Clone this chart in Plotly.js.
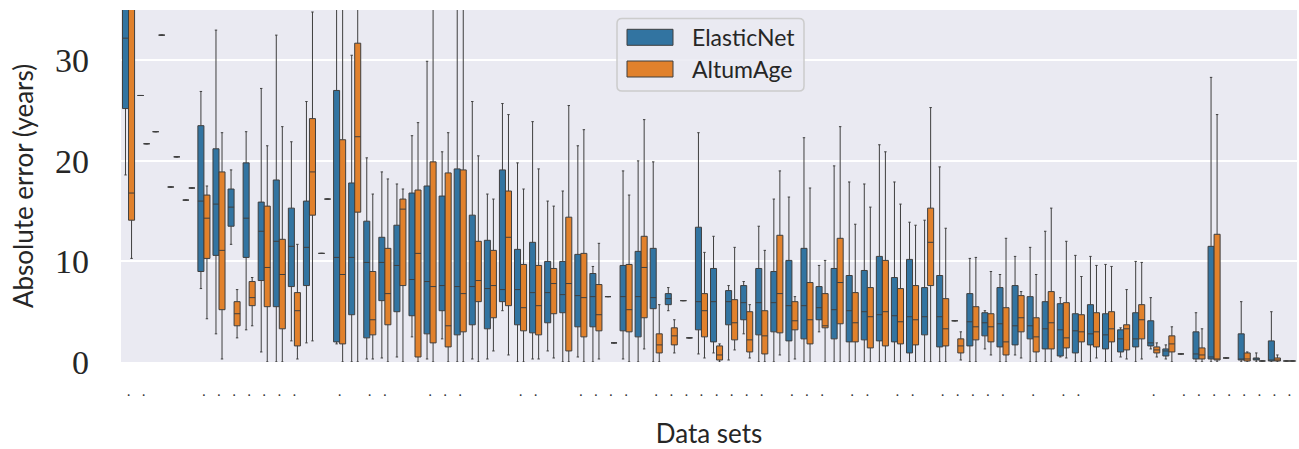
<!DOCTYPE html>
<html>
<head>
<meta charset="utf-8">
<script src="https://cdn.plot.ly/plotly-3.0.1.min.js"></script>
<style>html,body{margin:0;padding:0;background:#fff;}#chart{width:1299px;height:449px;}</style>
</head>
<body>
<div id="chart"></div>
<script>
// ---- data ----
const categories = ["D01","D02","D03","D04","D05","D06","D07","D08","D09","D10",
"D11","D12","D13","D14","D15","D16","D17","D18","D19","D20",
"D21","D22","D23","D24","D25","D26","D27","D28","D29","D30",
"D31","D32","D33","D34","D35","D36","D37","D38","D39","D40",
"D41","D42","D43","D44","D45","D46","D47","D48","D49","D50",
"D51","D52","D53","D54","D55","D56","D57","D58","D59","D60",
"D61","D62","D63","D64","D65","D66","D67","D68","D69","D70",
"D71","D72","D73","D74","D75","D76","D77","D78"];

const tickLabels = [".",".","","","",".",".",".",".",".",
".",".","","",".","",".",".","","",
".",".",".","","","",".",".","","",
".",".",".",".","",".",".",".",".",".",
".",".",".","",".",".",".","",".",".",
"",".",".","",".",".",".",".",".","",
".","",".",".","","","","",".","",
".",".",".",".",".",".",".","."];

const seriesNames = ["ElasticNet", "AltumAge"];

const elasticNetLow = [18.6,26.5,22.9,17.4,16.1,7.3,2.8,11.7,3.2,1.0,
0,2.1,1.9,10.8,1.8,0,0.3,0.4,0.5,2.5,
0.3,2.3,0,0.3,0.3,5.1,0,0.3,1.1,0,
0.5,0,6.5,0.3,0,0,5.1,6.1,0.8,0.9,
0.2,2.8,0,0,0,0,3.0,0,0,0,
0,0,0,0,0,4.1,0,1.3,0,0.7,
0,0,0.5,0,0,0,0.5,0,1.3,0.3,
0.8,0,0,0.4,0,0,0,0.1];
const elasticNetQ1 = [25.2,26.5,22.9,17.4,16.1,9.0,10.6,13.5,10.4,8.1,
5.5,7.5,7.6,10.8,2.0,4.7,2.4,6.1,5.0,4.6,
2.8,5.1,2.7,3.7,3.3,6.0,3.7,2.9,3.9,4.9,
3.5,3.5,6.5,3.1,2.5,5.3,5.7,6.1,3.2,2.0,
3.7,4.2,2.7,3.0,2.1,2.3,4.2,2.3,2.0,2.2,
2.1,2.0,0.9,2.7,1.5,4.1,1.6,2.6,1.5,1.7,
2.3,1.3,0.6,0.9,1.7,1.3,1.0,1.5,1.6,0.6,
0.8,0.3,0.3,0.4,0.2,0.2,0.1,0.1];
const elasticNetMedian = [32.2,26.5,22.9,17.4,16.1,16.0,15.7,15.4,14.3,13.0,
12.0,11.5,11.4,10.8,10.4,10.4,9.9,9.9,9.6,8.2,
8.0,7.6,7.5,7.5,7.3,7.2,7.2,6.9,6.9,6.7,
6.6,6.5,6.5,6.5,6.5,6.4,6.3,6.1,6.0,6.0,
6.0,5.9,5.9,5.9,5.6,5.6,5.4,5.2,5.1,5.0,
4.7,4.6,4.5,4.5,4.5,4.1,4.0,3.9,3.8,3.6,
3.6,3.3,3.2,3.1,2.8,2.7,2.3,2.3,1.9,1.1,
0.8,0.8,0.5,0.4,0.2,0.3,0.2,0.1];
const elasticNetQ3 = [38,26.5,22.9,17.4,16.1,23.5,21.2,17.2,19.8,15.9,
18.1,15.3,16.0,10.8,27.0,17.8,14.0,12.4,13.6,16.8,
17.5,16.5,19.2,14.6,12.1,19.1,11.2,11.9,10.0,10.0,
10.7,8.8,6.5,9.6,11.0,11.3,6.8,6.1,13.4,9.3,
7.1,7.6,9.3,9.0,10.1,11.3,7.5,9.3,8.6,9.1,
10.5,8.4,10.2,7.4,8.6,4.1,6.8,4.9,7.4,7.6,
6.5,6.0,5.8,4.8,5.7,4.8,3.2,4.9,4.1,1.3,
0.8,3.0,11.5,0.4,2.8,0.4,2.1,0.1];
const elasticNetHigh = [50,26.5,22.9,17.4,16.1,26.9,33.0,19.1,22.9,27.2,
32.5,21.9,25.9,10.8,45,30.5,20.3,18.9,17.7,22.5,
29.9,20.9,45,25.9,16.7,25.7,19.8,23.9,16.0,17.0,
21.5,9.5,6.5,19.0,20.0,19.9,7.4,6.1,22.8,12.5,
7.6,8.0,13.5,16.2,16.4,22.3,9.6,19.5,17.9,17.7,
21.6,17.9,13.9,14.1,19.4,4.1,10.3,5.1,8.7,10.5,
11.4,13.0,6.4,10.6,10.5,9.7,3.4,10.0,6.4,1.7,
0.8,4.9,28.3,0.4,6.0,0.9,5.0,0.1];

const altumAgeLow = [10.3,21.7,32.5,20.4,17.3,4.3,0.3,2.4,3.6,0,
0,0.3,2.1,16.2,0,0,0.3,0,0,0,
0,0,0,0,1.1,0.7,0,0.3,0.4,0,
0,0.3,1.9,0,1.3,0,0.9,2.4,0.4,0,
1.2,0.4,0,0.7,0.3,0,0,0,0,0,
0,0,0,0,0,0.2,0,0.7,0,0.4,
0,0,0.4,0,0.4,0,0.3,0.3,0.5,0,
null,0,0,null,0,0.1,0,0.1];
const altumAgeQ1 = [14.1,21.7,32.5,20.4,17.3,10.3,5.2,3.6,5.6,5.5,
3.3,1.6,14.6,16.2,1.8,14.9,2.7,3.7,7.6,0.5,
1.9,1.5,3.0,6.0,4.4,5.6,3.1,2.7,4.8,1.1,
2.5,3.1,1.9,3.0,4.4,0.9,1.7,2.4,2.5,0.2,
2.2,1.0,0.8,2.9,3.2,1.8,3.4,3.8,2.0,1.4,
1.6,1.8,1.7,7.6,1.6,0.9,2.2,2.0,0.7,3.0,
1.0,1.3,1.4,2.0,1.5,2.0,1.2,2.3,0.9,1.0,
null,0.3,0.2,null,0.1,0.1,0.1,0.1];
const altumAgeMedian = [16.8,21.7,32.5,20.4,17.3,14.3,11.1,4.8,6.4,9.4,
8.7,5.1,18.9,16.2,8.7,22.4,4.2,6.8,15.2,10.8,
7.5,3.6,6.8,8.1,7.6,12.4,5.4,5.6,7.8,7.8,
6.4,4.7,1.9,5.2,9.4,1.7,2.6,2.4,5.1,0.7,
3.9,2.2,2.6,6.8,4.1,4.2,3.6,7.9,3.9,4.5,
5.0,4.0,4.2,11.9,3.3,1.6,3.5,3.5,2.0,4.4,
2.5,3.9,2.4,3.0,3.0,3.3,3.3,4.2,1.2,1.8,
null,0.7,0.3,null,0.3,0.1,0.2,0.1];
const altumAgeQ3 = [37,21.7,32.5,20.4,17.3,16.6,18.9,6.0,8.0,15.5,
12.2,6.9,24.2,16.2,22.1,31.7,9.0,11.3,16.2,17.1,
19.9,18.8,19.1,12.0,11.1,17.0,9.7,9.6,9.3,14.4,
10.8,7.7,1.9,9.7,12.5,2.8,3.4,2.4,6.8,1.6,
6.2,5.0,5.1,12.6,6.0,7.9,6.8,12.3,6.9,7.4,
10.1,7.3,7.6,15.3,6.3,2.3,5.5,4.8,5.4,6.6,
4.4,7.0,5.9,4.7,4.9,5.0,3.7,5.7,1.5,2.6,
null,1.4,12.7,null,0.9,0.1,0.4,0.1];
const altumAgeHigh = [48,21.7,32.5,20.4,17.3,17.5,22.8,7.2,8.4,21.5,
23.4,11.7,34.8,16.2,45,45,16.7,18.2,17.2,23.8,
45,22.8,45,20.5,16.2,24.6,17.2,19.2,15.5,25.5,
23.1,11.8,1.9,16.6,24.1,5.7,4.2,2.4,10.9,1.8,
11.4,5.7,11.1,19.0,6.5,17.3,10.1,23.4,13.7,15.4,
20.9,15.7,13.6,25.3,13.3,3.0,10.4,9.0,12.3,7.0,
8.7,15.3,12.0,8.5,9.6,9.5,7.2,9.9,1.9,3.5,
null,3.3,24.6,null,1.0,0.1,0.7,0.1];

const yTickValues = [0, 10, 20, 30];

// ---- geometry / style ----
const FIG_W = 1299, FIG_H = 449;
const L = 121, T = 10, W = 1176, H = 352;
const BLUE = '#3274a1', ORANGE = '#e1812c', EDGE = '#3f3f3f', TEXT = '#262626';
const SANS = 'Lato, "Open Sans", sans-serif';

function boxTrace(name, low, q1, med, q3, high, color) {
  const idx = categories.map((c, i) => i).filter(i => med[i] !== null);
  return {
    type: 'box', name: name,
    x: idx.map(i => categories[i]),
    lowerfence: idx.map(i => low[i]),
    q1: idx.map(i => q1[i]),
    median: idx.map(i => med[i]),
    q3: idx.map(i => q3[i]),
    upperfence: idx.map(i => high[i]),
    boxpoints: false,
    fillcolor: color,
    line: {color: EDGE, width: 1},
    whiskerwidth: 0.4,
    showlegend: false,
    hoverinfo: 'skip'
  };
}

const traces = [
  boxTrace(seriesNames[0], elasticNetLow, elasticNetQ1, elasticNetMedian, elasticNetQ3, elasticNetHigh, BLUE),
  boxTrace(seriesNames[1], altumAgeLow, altumAgeQ1, altumAgeMedian, altumAgeQ3, altumAgeHigh, ORANGE)
];

// legend drawn as shapes (pixel -> paper)
const px = p => (p - L) / W;
const py = p => (T + H - p) / H;
function roundRect(x0, y0, x1, y1, r) {
  const rx = r / W, ry = r / H;
  const a = px(x0), b = px(x1), top = py(y0), bot = py(y1);
  return `M${a + rx},${top} L${b - rx},${top} Q${b},${top} ${b},${top - ry} ` +
         `L${b},${bot + ry} Q${b},${bot} ${b - rx},${bot} L${a + rx},${bot} ` +
         `Q${a},${bot} ${a},${bot + ry} L${a},${top - ry} Q${a},${top} ${a + rx},${top} Z`;
}
const legendColors = [BLUE, ORANGE];
const legendRows = [37.3, 69.0];
const shapes = [{
  type: 'path', xref: 'paper', yref: 'paper', layer: 'above',
  path: roundRect(617, 18.5, 804, 91, 5),
  fillcolor: 'rgba(234,234,242,0.85)', line: {color: '#cccccc', width: 1.5}
}];
const annotations = [];
seriesNames.forEach((n, i) => {
  shapes.push({
    type: 'rect', xref: 'paper', yref: 'paper', layer: 'above',
    x0: px(627), x1: px(673), y0: py(legendRows[i] - 8), y1: py(legendRows[i] + 8),
    fillcolor: legendColors[i], line: {color: EDGE, width: 1}
  });
  annotations.push({
    xref: 'paper', yref: 'paper', x: px(690), y: py(legendRows[i]),
    xanchor: 'left', yanchor: 'middle', showarrow: false,
    text: n, font: {family: SANS, size: 23, color: TEXT}
  });
});

const layout = {
  width: FIG_W, height: FIG_H,
  margin: {l: L, r: FIG_W - L - W, t: T, b: FIG_H - T - H},
  paper_bgcolor: '#ffffff', plot_bgcolor: '#eaeaf2',
  font: {family: SANS, color: TEXT},
  boxmode: 'group', boxgap: 0.2, boxgroupgap: 0,
  showlegend: false,
  xaxis: {
    type: 'category', categoryorder: 'array', categoryarray: categories,
    tickmode: 'array', tickvals: categories, ticktext: tickLabels,
    range: [-0.5, categories.length - 0.5],
    showgrid: false, zeroline: false, showline: false,
    ticks: 'outside', ticklen: 21, tickcolor: 'rgba(0,0,0,0)',
    ticklabelstandoff: -5,
    tickfont: {family: SANS, size: 14, color: '#333'},
    automargin: false, fixedrange: true,
    title: {text: 'Data sets', font: {family: SANS, size: 26, color: TEXT}, standoff: 36}
  },
  yaxis: {
    range: [0, 35], tickmode: 'array', tickvals: yTickValues,
    showgrid: true, gridcolor: '#ffffff', gridwidth: 2,
    zeroline: false, showline: false,
    ticks: '', ticklabelstandoff: 31,
    tickfont: {family: '"Liberation Serif", "DejaVu Serif", serif', size: 34, color: TEXT},
    automargin: false, fixedrange: true,
    title: {text: 'Absolute error (years)', font: {family: SANS, size: 26, color: TEXT}, standoff: 13}
  },
  shapes: shapes,
  annotations: annotations
};

Plotly.newPlot('chart', traces, layout, {staticPlot: true, displayModeBar: false});
</script>
</body>
</html>
